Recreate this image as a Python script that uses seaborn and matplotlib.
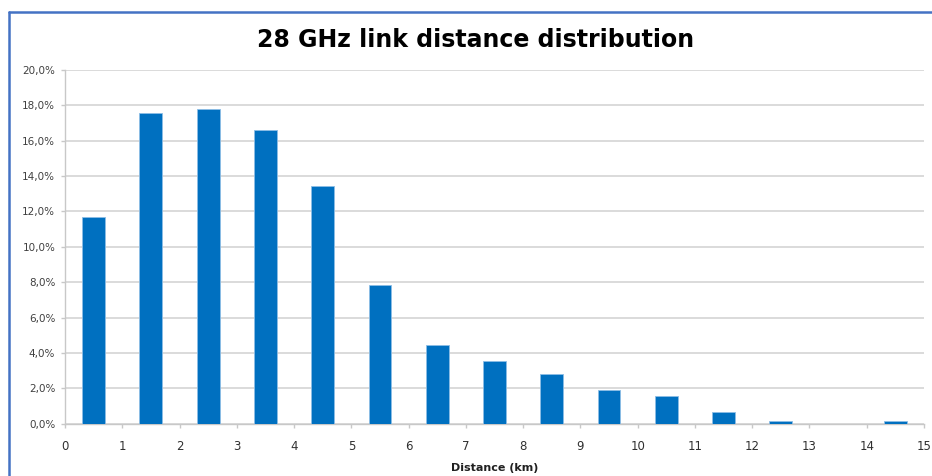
import numpy as np
import pandas as pd
import matplotlib
matplotlib.use('Agg')
import matplotlib.pyplot as plt
from matplotlib.ticker import FuncFormatter, MultipleLocator
from matplotlib.lines import Line2D
import seaborn as sns

# link distance bins (km, bin centres) and share of links (%)
bin_centres = [0.5, 1.5, 2.5, 3.5, 4.5, 5.5, 6.5, 7.5, 8.5, 9.5, 10.5, 11.5, 12.5, 13.5, 14.5]
share_pct = [11.7, 17.55, 17.8, 16.6, 13.45, 7.85, 4.45, 3.55, 2.8, 1.9, 1.55, 0.65, 0.18, 0.0, 0.15]
x_ticks = list(range(0, 16))
y_ticks = [0, 2, 4, 6, 8, 10, 12, 14, 16, 18, 20]

df = pd.DataFrame({'dist': bin_centres, 'share': share_pct})

sns.set_style('white')
plt.rcParams['font.family'] = ['DejaVu Sans']

fig = plt.figure(figsize=(9.32, 4.76), dpi=100)
ax = fig.add_axes([65/932, 1-423.7/476, (924-65)/932, (423.7-70)/476])

sns.barplot(data=df, x='dist', y='share', native_scale=True, width=0.4,
            color='#0070C0', edgecolor='#8dbde6', linewidth=0.6, saturation=1, ax=ax, zorder=3)

ax.set_xlim(0, 15)
ax.set_ylim(0, 20)
ax.xaxis.set_major_locator(MultipleLocator(1))
ax.set_xticks(x_ticks)
ax.set_yticks(y_ticks)
ax.yaxis.set_major_formatter(FuncFormatter(lambda v, p: f'{v:.1f}%'.replace('.', ',')))
ax.grid(axis='y', color='#d4d4d4', linewidth=1.2, zorder=0)
ax.grid(axis='x', visible=False)
ax.set_axisbelow(True)

for s in ['top', 'right']:
    ax.spines[s].set_visible(False)
for s in ['left', 'bottom']:
    ax.spines[s].set_color('#c8c8c8')
    ax.spines[s].set_linewidth(1.0)

ax.tick_params(axis='y', which='major', length=3, width=1, color='#c8c8c8',
               labelsize=7.5, labelcolor='#404040', pad=4, left=True)
ax.tick_params(axis='x', which='major', length=3, width=1, color='#c8c8c8',
               labelsize=8.5, labelcolor='#303030', pad=9, bottom=True)

ax.set_ylabel('')
ax.set_xlabel('Distance (km)', fontsize=8, fontweight='bold', color='#202020', labelpad=7)

fig.text(0.51, 1-40/476, '28 GHz link distance distribution', ha='center', va='center',
         fontsize=17, fontweight='bold', color='black')

# chart frame (blue border at top and left)
fig.add_artist(Line2D([9/932, 9/932], [0, 1-12/476], transform=fig.transFigure,
                      color='#4472C4', linewidth=1.8))
fig.add_artist(Line2D([9/932, 1], [1-12/476, 1-12/476], transform=fig.transFigure,
                      color='#4472C4', linewidth=1.8))

fig.savefig('out.png', dpi=100)
